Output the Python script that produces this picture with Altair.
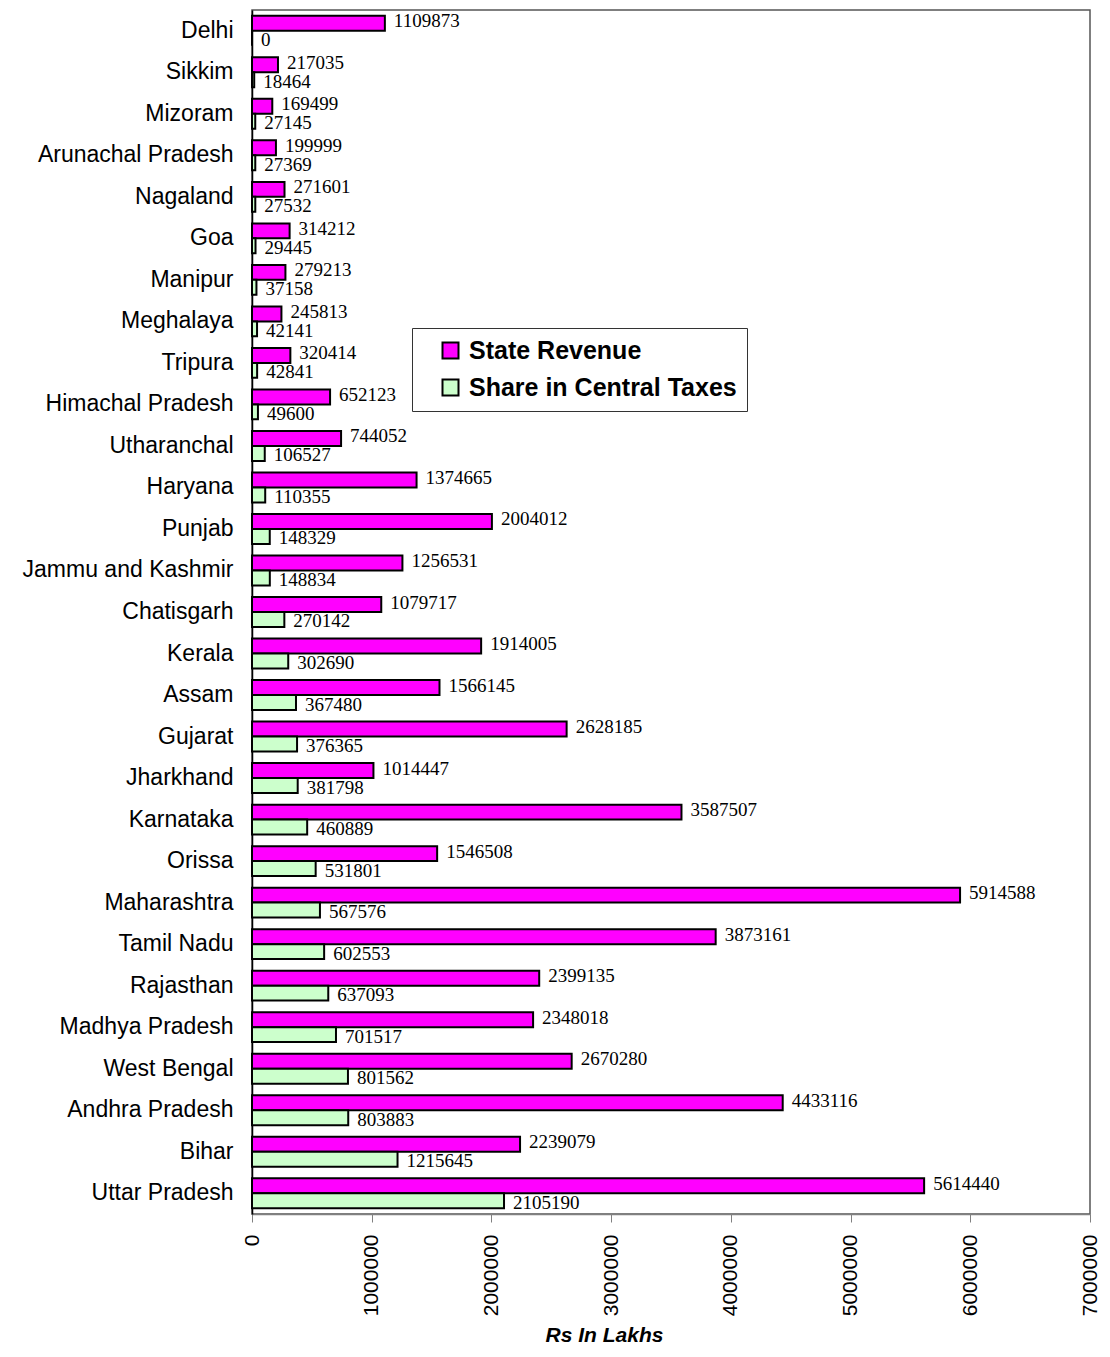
import altair as alt
import pandas as pd

states = ["Delhi", "Sikkim", "Mizoram", "Arunachal Pradesh", "Nagaland", "Goa",
          "Manipur", "Meghalaya", "Tripura", "Himachal Pradesh", "Utharanchal",
          "Haryana", "Punjab", "Jammu and Kashmir", "Chatisgarh", "Kerala", "Assam",
          "Gujarat", "Jharkhand", "Karnataka", "Orissa", "Maharashtra", "Tamil Nadu",
          "Rajasthan", "Madhya Pradesh", "West Bengal", "Andhra Pradesh", "Bihar",
          "Uttar Pradesh"]
state_revenue = [1109873, 217035, 169499, 199999, 271601, 314212, 279213, 245813,
                 320414, 652123, 744052, 1374665, 2004012, 1256531, 1079717, 1914005,
                 1566145, 2628185, 1014447, 3587507, 1546508, 5914588, 3873161,
                 2399135, 2348018, 2670280, 4433116, 2239079, 5614440]
central_share = [0, 18464, 27145, 27369, 27532, 29445, 37158, 42141, 42841, 49600,
                 106527, 110355, 148329, 148834, 270142, 302690, 367480, 376365,
                 381798, 460889, 531801, 567576, 602553, 637093, 701517, 801562,
                 803883, 1215645, 2105190]
series = ["State Revenue", "Share in Central Taxes"]
colors = ["#FF00FF", "#CCFFCC"]
x_ticks = [0, 1000000, 2000000, 3000000, 4000000, 5000000, 6000000, 7000000]

rows = []
for s, a, b in zip(states, state_revenue, central_share):
    rows.append({"State": s, "Series": series[0], "Value": a})
    rows.append({"State": s, "Series": series[1], "Value": b})
df = pd.DataFrame(rows)

y_enc = alt.Y("State:N", sort=states, title=None,
              scale=alt.Scale(paddingInner=0.28, paddingOuter=0.14),
              axis=alt.Axis(ticks=False, labelPadding=19, labelFontSize=23,
                            labelLimit=0,
                            labelFont="Liberation Sans", labelColor="black",
                            domainColor="black", domainWidth=1.5))
yoff = alt.YOffset("Series:N", sort=series)
x_enc = alt.X("Value:Q", scale=alt.Scale(domain=[0, 7000000], nice=False),
              title="Rs In Lakhs",
              axis=alt.Axis(values=x_ticks, format="d", labelAngle=-90,
                            labelFontSize=21, labelFont="Liberation Sans",
                            labelColor="black", labelPadding=12, tickSize=8,
                            tickColor="#808080", domainColor="#808080",
                            domainWidth=1.5, grid=False, labelBound=False,
                            titleFont="Liberation Sans", titleFontSize=21,
                            titleFontWeight="bold", titleFontStyle="italic",
                            titleColor="black", titleAlign="center",
                            titleAnchor="start", titleX=352, titleY=127,
                            titleBaseline="alphabetic"))

bars = alt.Chart(df).mark_bar(stroke="black", strokeWidth=2).encode(
    y=y_enc, yOffset=yoff, x=x_enc,
    color=alt.Color("Series:N", sort=series,
                    scale=alt.Scale(domain=series, range=colors),
                    legend=alt.Legend(title=None, orient="none", legendX=160,
                                      legendY=318, fillColor="white",
                                      strokeColor="#333333", padding=10,
                                      symbolOffset=16,
                                      symbolType="square", symbolSize=256,
                                      symbolStrokeColor="black",
                                      symbolStrokeWidth=2, labelFontSize=25,
                                      labelFont="Liberation Sans", labelLimit=0,
                                      labelFontWeight="bold", labelColor="black",
                                      labelOffset=6, rowPadding=11,
                                      symbolOpacity=1)),
)

def label_layer(name, shift):
    return alt.Chart(df).transform_filter(
        alt.datum.Series == name
    ).mark_text(align="left", baseline="middle", dx=9, dy=shift,
                font="Liberation Serif", fontSize=19, color="black").encode(
        y=alt.Y("State:N", sort=states), yOffset=yoff, x="Value:Q",
        text=alt.Text("Value:Q", format="d"),
    )

chart = alt.layer(bars, label_layer(series[0], -2), label_layer(series[1], 2)).properties(
    width=838, height=1204,
    autosize=alt.AutoSizeParams(type="none"),
    padding={"left": 244, "top": 2, "right": 12, "bottom": 132},
).configure_view(stroke="#555555", strokeWidth=1.5)

chart.save("out.html", embed_options={"renderer": "svg", "actions": False})
